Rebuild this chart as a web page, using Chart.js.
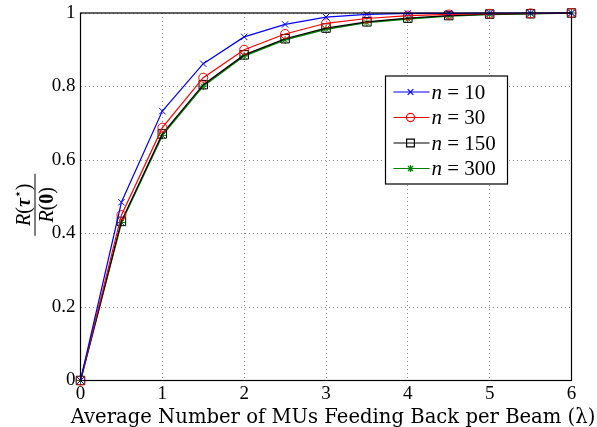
<!DOCTYPE html>
<html>
<head>
<meta charset="utf-8">
<script src="https://cdn.jsdelivr.net/npm/chart.js@4/dist/chart.umd.min.js"></script>
<style>
  body { margin: 0; background: #fff; }
  #wrap { width: 597px; height: 427px; position: relative; }
</style>
</head>
<body>
<div id="wrap"><canvas id="chart"></canvas></div>
<script>
// average number of MUs feeding back per beam
const lambdas = [0, 0.5, 1, 1.5, 2, 2.5, 3, 3.5, 4, 4.5, 5, 5.5, 6];
const n10  = [0, 0.485, 0.733, 0.862, 0.935, 0.969, 0.989, 0.996, 0.999, 0.999, 1, 1, 1];
const n30  = [0, 0.450, 0.688, 0.824, 0.900, 0.943, 0.972, 0.985, 0.993, 0.996, 0.998, 0.999, 1];
const n150 = [0, 0.433, 0.671, 0.805, 0.886, 0.930, 0.959, 0.976, 0.986, 0.993, 0.997, 0.998, 1];
const n300 = [0, 0.430, 0.667, 0.801, 0.883, 0.927, 0.956, 0.974, 0.984, 0.992, 0.996, 0.998, 1];
const seriesNames = ['10', '30', '150', '300'];
const xTicks = [0, 1, 2, 3, 4, 5, 6];
const yTicks = [0, 0.2, 0.4, 0.6, 0.8, 1];
const xTitle = 'Average Number of MUs Feeding Back per Beam (λ)';

const serif = '"Liberation Serif", "DejaVu Serif", serif';
const wideSerif = '"DejaVu Serif", "Liberation Serif", serif';

function toPoints(ys) {
    return lambdas.map((x, i) => ({ x: x, y: ys[i] }));
}

const styles = [
    { color: '#0000ff', point: 'crossRot', radius: 4.5 },
    { color: '#ff0000', point: 'circle', radius: 4.5 },
    { color: '#000000', point: 'rect', radius: 6 },
    { color: '#008000', point: 'star', radius: 4 }
];
const allSeries = [n10, n30, n150, n300];

const datasets = allSeries.map((ys, i) => ({
    label: 'n = ' + seriesNames[i],
    data: toPoints(ys),
    borderColor: styles[i].color,
    backgroundColor: 'rgba(0,0,0,0)',
    pointBorderColor: styles[i].color,
    pointBackgroundColor: 'rgba(0,0,0,0)',
    pointStyle: styles[i].point,
    pointRadius: styles[i].radius,
    pointBorderWidth: 1,
    borderWidth: i === 3 ? 1.5 : 1.2,
    tension: 0,
    clip: false
}));

// draws text pieces one after another, returns total width
function drawPieces(ctx, pieces, x, y, measureOnly) {
    let w = 0;
    pieces.forEach(p => {
        ctx.font = p.font;
        if (!measureOnly) ctx.fillText(p.text, x + w, y + (p.dy || 0));
        w += ctx.measureText(p.text).width;
    });
    return w;
}

// box, legend, axis titles drawn on top
const extras = {
    id: 'extras',
    afterDraw(chart) {
        const ctx = chart.ctx;
        const a = chart.chartArea;
        ctx.save();
        ctx.strokeStyle = '#000';
        ctx.lineWidth = 1.2;
        ctx.strokeRect(a.left, a.top, a.right - a.left, a.bottom - a.top);

        // legend
        const lx = a.right - 186, ly = a.top + 63, lw = 122, lh = 108;
        ctx.fillStyle = '#fff';
        ctx.fillRect(lx, ly, lw, lh);
        ctx.strokeRect(lx, ly, lw, lh);
        styles.forEach((s, i) => {
            const y = ly + 16 + i * 25.5;
            ctx.strokeStyle = s.color;
            ctx.lineWidth = 1.2;
            ctx.beginPath();
            ctx.moveTo(lx + 8, y);
            ctx.lineTo(lx + 44, y);
            ctx.stroke();
            const cx = lx + 25, r = s.radius * 0.9;
            ctx.beginPath();
            if (s.point === 'crossRot') {
                ctx.moveTo(cx - r * 0.7, y - r * 0.7); ctx.lineTo(cx + r * 0.7, y + r * 0.7);
                ctx.moveTo(cx - r * 0.7, y + r * 0.7); ctx.lineTo(cx + r * 0.7, y - r * 0.7);
            } else if (s.point === 'circle') {
                ctx.arc(cx, y, r, 0, Math.PI * 2);
            } else if (s.point === 'rect') {
                ctx.rect(cx - r * 0.72, y - r * 0.72, r * 1.44, r * 1.44);
            } else {
                for (let k = 0; k < 4; k++) {
                    const ang = k * Math.PI / 4;
                    ctx.moveTo(cx - r * Math.cos(ang), y - r * Math.sin(ang));
                    ctx.lineTo(cx + r * Math.cos(ang), y + r * Math.sin(ang));
                }
            }
            ctx.stroke();
            ctx.fillStyle = '#000';
            ctx.textBaseline = 'middle';
            drawPieces(ctx, [
                { text: 'n', font: 'italic 21px ' + serif },
                { text: ' = ' + seriesNames[i], font: '21px ' + serif }
            ], lx + 46, y + 1);
        });

        // x axis title, wider than the plot so drawn here
        ctx.fillStyle = '#000';
        ctx.textAlign = 'center';
        ctx.textBaseline = 'alphabetic';
        ctx.font = '20px ' + wideSerif;
        const tw = ctx.measureText(xTitle).width;
        const size = Math.min(22, 20 * 525 / tw);
        ctx.font = size + 'px ' + wideSerif;
        ctx.fillText(xTitle, (a.left + a.right) / 2 + 7, a.bottom + 42);

        // y axis label as a fraction R(tau*) / R(0)
        ctx.translate(35, (a.top + a.bottom) / 2 + 8);
        ctx.rotate(-Math.PI / 2);
        ctx.strokeStyle = '#000';
        ctx.lineWidth = 1;
        ctx.beginPath();
        ctx.moveTo(-31, 0);
        ctx.lineTo(31, 0);
        ctx.stroke();
        ctx.textAlign = 'left';
        const num = [
            { text: 'R', font: 'italic 20px ' + serif },
            { text: '(', font: '20px ' + serif },
            { text: 'τ', font: 'italic bold 20px ' + serif },
            { text: '⋆', font: '13px ' + serif, dy: -8 },
            { text: ')', font: '20px ' + serif }
        ];
        const den = [
            { text: 'R', font: 'italic 20px ' + serif },
            { text: '(', font: '20px ' + serif },
            { text: '0', font: 'bold 20px ' + serif },
            { text: ')', font: '20px ' + serif }
        ];
        const nw = drawPieces(ctx, num, 0, 0, true);
        drawPieces(ctx, num, -nw / 2, -5);
        const dw = drawPieces(ctx, den, 0, 0, true);
        drawPieces(ctx, den, -dw / 2, 18);
        ctx.restore();
    }
};

new Chart(document.getElementById('chart'), {
    type: 'line',
    data: { datasets: datasets },
    plugins: [extras],
    options: {
        responsive: true,
        maintainAspectRatio: false,
        animation: false,
        layout: { padding: { top: 13, right: 25.5, left: 0, bottom: 0 } },
        plugins: { legend: { display: false }, tooltip: { enabled: false } },
        scales: {
            x: {
                type: 'linear',
                min: 0,
                max: 6,
                afterBuildTicks: axis => { axis.ticks = xTicks.map(v => ({ value: v })); },
                afterFit: axis => { axis.height = 46.5; axis.paddingLeft = 0; axis.paddingRight = 0; },
                ticks: { color: '#000', font: { family: serif, size: 19 }, padding: 2, maxRotation: 0 },
                grid: { color: '#888', drawTicks: false },
                border: { display: false, dash: [1, 3] }
            },
            y: {
                min: 0,
                max: 1,
                afterBuildTicks: axis => { axis.ticks = yTicks.map(v => ({ value: v })); },
                afterFit: axis => { axis.width = 80.5; axis.paddingTop = 0; axis.paddingBottom = 0; },
                ticks: { color: '#000', font: { family: serif, size: 19 }, padding: 5, callback: v => String(+v.toFixed(1)) },
                grid: { color: '#888', drawTicks: false },
                border: { display: false, dash: [1, 3] }
            }
        }
    }
});
</script>
</body>
</html>
